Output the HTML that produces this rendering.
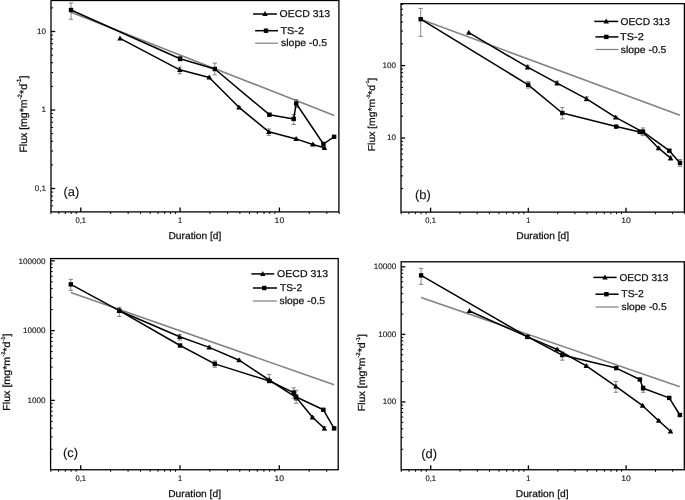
<!DOCTYPE html>
<html><head><meta charset="utf-8"><style>
html,body{margin:0;padding:0;background:#fff;}
svg{display:block;font-family:"Liberation Sans",sans-serif;fill:#111;filter:blur(0.35px);}
text{stroke:#111;stroke-width:0.25px;text-rendering:geometricPrecision;}
text.tk{stroke-width:0.12px;}
text.pl{stroke-width:0.12px;}
</style></head><body>
<svg width="685" height="500" viewBox="0 0 685 500">
<rect width="685" height="500" fill="#fff"/>
<line x1="50.91" y1="211.90" x2="50.91" y2="214.00" stroke="#000" stroke-width="0.95" />
<line x1="58.77" y1="211.90" x2="58.77" y2="214.00" stroke="#000" stroke-width="0.95" />
<line x1="65.42" y1="211.90" x2="65.42" y2="214.00" stroke="#000" stroke-width="0.95" />
<line x1="71.18" y1="211.90" x2="71.18" y2="214.00" stroke="#000" stroke-width="0.95" />
<line x1="76.26" y1="211.90" x2="76.26" y2="214.00" stroke="#000" stroke-width="0.95" />
<line x1="80.80" y1="211.90" x2="80.80" y2="207.50" stroke="#000" stroke-width="1.3" />
<line x1="110.69" y1="211.90" x2="110.69" y2="214.00" stroke="#000" stroke-width="0.95" />
<line x1="128.18" y1="211.90" x2="128.18" y2="214.00" stroke="#000" stroke-width="0.95" />
<line x1="140.58" y1="211.90" x2="140.58" y2="214.00" stroke="#000" stroke-width="0.95" />
<line x1="150.21" y1="211.90" x2="150.21" y2="214.00" stroke="#000" stroke-width="0.95" />
<line x1="158.07" y1="211.90" x2="158.07" y2="214.00" stroke="#000" stroke-width="0.95" />
<line x1="164.72" y1="211.90" x2="164.72" y2="214.00" stroke="#000" stroke-width="0.95" />
<line x1="170.48" y1="211.90" x2="170.48" y2="214.00" stroke="#000" stroke-width="0.95" />
<line x1="175.56" y1="211.90" x2="175.56" y2="214.00" stroke="#000" stroke-width="0.95" />
<line x1="180.10" y1="211.90" x2="180.10" y2="207.50" stroke="#000" stroke-width="1.3" />
<line x1="209.99" y1="211.90" x2="209.99" y2="214.00" stroke="#000" stroke-width="0.95" />
<line x1="227.48" y1="211.90" x2="227.48" y2="214.00" stroke="#000" stroke-width="0.95" />
<line x1="239.88" y1="211.90" x2="239.88" y2="214.00" stroke="#000" stroke-width="0.95" />
<line x1="249.51" y1="211.90" x2="249.51" y2="214.00" stroke="#000" stroke-width="0.95" />
<line x1="257.37" y1="211.90" x2="257.37" y2="214.00" stroke="#000" stroke-width="0.95" />
<line x1="264.02" y1="211.90" x2="264.02" y2="214.00" stroke="#000" stroke-width="0.95" />
<line x1="269.78" y1="211.90" x2="269.78" y2="214.00" stroke="#000" stroke-width="0.95" />
<line x1="274.86" y1="211.90" x2="274.86" y2="214.00" stroke="#000" stroke-width="0.95" />
<line x1="279.40" y1="211.90" x2="279.40" y2="207.50" stroke="#000" stroke-width="1.3" />
<line x1="309.29" y1="211.90" x2="309.29" y2="214.00" stroke="#000" stroke-width="0.95" />
<line x1="326.78" y1="211.90" x2="326.78" y2="214.00" stroke="#000" stroke-width="0.95" />
<line x1="339.18" y1="211.90" x2="339.18" y2="214.00" stroke="#000" stroke-width="0.95" />
<text x="75.50" y="223.00" font-size="8.0" text-anchor="start" class="tk" textLength="10.6" lengthAdjust="spacingAndGlyphs">0,1</text>
<text x="178.05" y="223.00" font-size="8.0" text-anchor="start" class="tk" textLength="4.1" lengthAdjust="spacingAndGlyphs">1</text>
<text x="274.60" y="223.00" font-size="8.0" text-anchor="start" class="tk" textLength="9.6" lengthAdjust="spacingAndGlyphs">10</text>
<line x1="51.00" y1="205.92" x2="53.10" y2="205.92" stroke="#000" stroke-width="1.0" />
<line x1="51.00" y1="200.66" x2="53.10" y2="200.66" stroke="#000" stroke-width="1.0" />
<line x1="51.00" y1="196.11" x2="53.10" y2="196.11" stroke="#000" stroke-width="1.0" />
<line x1="51.00" y1="192.09" x2="53.10" y2="192.09" stroke="#000" stroke-width="1.0" />
<line x1="51.00" y1="188.50" x2="55.20" y2="188.50" stroke="#000" stroke-width="1.3" />
<line x1="51.00" y1="164.87" x2="53.10" y2="164.87" stroke="#000" stroke-width="1.0" />
<line x1="51.00" y1="151.05" x2="53.10" y2="151.05" stroke="#000" stroke-width="1.0" />
<line x1="51.00" y1="141.24" x2="53.10" y2="141.24" stroke="#000" stroke-width="1.0" />
<line x1="51.00" y1="133.63" x2="53.10" y2="133.63" stroke="#000" stroke-width="1.0" />
<line x1="51.00" y1="127.42" x2="53.10" y2="127.42" stroke="#000" stroke-width="1.0" />
<line x1="51.00" y1="122.16" x2="53.10" y2="122.16" stroke="#000" stroke-width="1.0" />
<line x1="51.00" y1="117.61" x2="53.10" y2="117.61" stroke="#000" stroke-width="1.0" />
<line x1="51.00" y1="113.59" x2="53.10" y2="113.59" stroke="#000" stroke-width="1.0" />
<line x1="51.00" y1="110.00" x2="55.20" y2="110.00" stroke="#000" stroke-width="1.3" />
<line x1="51.00" y1="86.37" x2="53.10" y2="86.37" stroke="#000" stroke-width="1.0" />
<line x1="51.00" y1="72.55" x2="53.10" y2="72.55" stroke="#000" stroke-width="1.0" />
<line x1="51.00" y1="62.74" x2="53.10" y2="62.74" stroke="#000" stroke-width="1.0" />
<line x1="51.00" y1="55.13" x2="53.10" y2="55.13" stroke="#000" stroke-width="1.0" />
<line x1="51.00" y1="48.92" x2="53.10" y2="48.92" stroke="#000" stroke-width="1.0" />
<line x1="51.00" y1="43.66" x2="53.10" y2="43.66" stroke="#000" stroke-width="1.0" />
<line x1="51.00" y1="39.11" x2="53.10" y2="39.11" stroke="#000" stroke-width="1.0" />
<line x1="51.00" y1="35.09" x2="53.10" y2="35.09" stroke="#000" stroke-width="1.0" />
<line x1="51.00" y1="31.50" x2="55.20" y2="31.50" stroke="#000" stroke-width="1.3" />
<line x1="51.00" y1="7.87" x2="53.10" y2="7.87" stroke="#000" stroke-width="1.0" />
<text x="37.00" y="34.00" font-size="8.0" text-anchor="start" class="tk" textLength="9.0" lengthAdjust="spacingAndGlyphs">10</text>
<text x="41.50" y="112.00" font-size="8.0" text-anchor="start" class="tk" textLength="4.5" lengthAdjust="spacingAndGlyphs">1</text>
<text x="34.80" y="191.00" font-size="8.0" text-anchor="start" class="tk" textLength="11.2" lengthAdjust="spacingAndGlyphs">0,1</text>
<line x1="71.00" y1="12.20" x2="334.30" y2="115.50" stroke="#828282" stroke-width="1.6" />
<line x1="71.00" y1="3.00" x2="71.00" y2="19.30" stroke="#3a3a3a" stroke-width="0.6" />
<line x1="68.80" y1="3.00" x2="73.20" y2="3.00" stroke="#3a3a3a" stroke-width="0.6" />
<line x1="68.80" y1="19.30" x2="73.20" y2="19.30" stroke="#3a3a3a" stroke-width="0.6" />
<line x1="180.10" y1="56.60" x2="180.10" y2="61.00" stroke="#3a3a3a" stroke-width="0.6" />
<line x1="177.90" y1="56.60" x2="182.30" y2="56.60" stroke="#3a3a3a" stroke-width="0.6" />
<line x1="177.90" y1="61.00" x2="182.30" y2="61.00" stroke="#3a3a3a" stroke-width="0.6" />
<line x1="214.80" y1="63.10" x2="214.80" y2="74.90" stroke="#3a3a3a" stroke-width="0.6" />
<line x1="212.60" y1="63.10" x2="217.00" y2="63.10" stroke="#3a3a3a" stroke-width="0.6" />
<line x1="212.60" y1="74.90" x2="217.00" y2="74.90" stroke="#3a3a3a" stroke-width="0.6" />
<line x1="269.40" y1="113.40" x2="269.40" y2="116.00" stroke="#3a3a3a" stroke-width="0.6" />
<line x1="267.20" y1="113.40" x2="271.60" y2="113.40" stroke="#3a3a3a" stroke-width="0.6" />
<line x1="267.20" y1="116.00" x2="271.60" y2="116.00" stroke="#3a3a3a" stroke-width="0.6" />
<line x1="293.70" y1="114.50" x2="293.70" y2="124.50" stroke="#3a3a3a" stroke-width="0.6" />
<line x1="291.50" y1="114.50" x2="295.90" y2="114.50" stroke="#3a3a3a" stroke-width="0.6" />
<line x1="291.50" y1="124.50" x2="295.90" y2="124.50" stroke="#3a3a3a" stroke-width="0.6" />
<line x1="296.20" y1="99.60" x2="296.20" y2="107.40" stroke="#3a3a3a" stroke-width="0.6" />
<line x1="294.00" y1="99.60" x2="298.40" y2="99.60" stroke="#3a3a3a" stroke-width="0.6" />
<line x1="294.00" y1="107.40" x2="298.40" y2="107.40" stroke="#3a3a3a" stroke-width="0.6" />
<line x1="323.40" y1="143.00" x2="323.40" y2="145.00" stroke="#3a3a3a" stroke-width="0.6" />
<line x1="321.20" y1="143.00" x2="325.60" y2="143.00" stroke="#3a3a3a" stroke-width="0.6" />
<line x1="321.20" y1="145.00" x2="325.60" y2="145.00" stroke="#3a3a3a" stroke-width="0.6" />
<line x1="334.10" y1="136.00" x2="334.10" y2="137.60" stroke="#3a3a3a" stroke-width="0.6" />
<line x1="331.90" y1="136.00" x2="336.30" y2="136.00" stroke="#3a3a3a" stroke-width="0.6" />
<line x1="331.90" y1="137.60" x2="336.30" y2="137.60" stroke="#3a3a3a" stroke-width="0.6" />
<line x1="179.80" y1="67.10" x2="179.80" y2="73.80" stroke="#3a3a3a" stroke-width="0.6" />
<line x1="177.60" y1="67.10" x2="182.00" y2="67.10" stroke="#3a3a3a" stroke-width="0.6" />
<line x1="177.60" y1="73.80" x2="182.00" y2="73.80" stroke="#3a3a3a" stroke-width="0.6" />
<line x1="209.20" y1="76.70" x2="209.20" y2="78.30" stroke="#3a3a3a" stroke-width="0.6" />
<line x1="207.00" y1="76.70" x2="211.40" y2="76.70" stroke="#3a3a3a" stroke-width="0.6" />
<line x1="207.00" y1="78.30" x2="211.40" y2="78.30" stroke="#3a3a3a" stroke-width="0.6" />
<line x1="239.00" y1="106.50" x2="239.00" y2="108.10" stroke="#3a3a3a" stroke-width="0.6" />
<line x1="236.80" y1="106.50" x2="241.20" y2="106.50" stroke="#3a3a3a" stroke-width="0.6" />
<line x1="236.80" y1="108.10" x2="241.20" y2="108.10" stroke="#3a3a3a" stroke-width="0.6" />
<line x1="268.80" y1="128.90" x2="268.80" y2="135.40" stroke="#3a3a3a" stroke-width="0.6" />
<line x1="266.60" y1="128.90" x2="271.00" y2="128.90" stroke="#3a3a3a" stroke-width="0.6" />
<line x1="266.60" y1="135.40" x2="271.00" y2="135.40" stroke="#3a3a3a" stroke-width="0.6" />
<line x1="296.10" y1="137.90" x2="296.10" y2="139.90" stroke="#3a3a3a" stroke-width="0.6" />
<line x1="293.90" y1="137.90" x2="298.30" y2="137.90" stroke="#3a3a3a" stroke-width="0.6" />
<line x1="293.90" y1="139.90" x2="298.30" y2="139.90" stroke="#3a3a3a" stroke-width="0.6" />
<line x1="312.80" y1="143.70" x2="312.80" y2="145.30" stroke="#3a3a3a" stroke-width="0.6" />
<line x1="310.60" y1="143.70" x2="315.00" y2="143.70" stroke="#3a3a3a" stroke-width="0.6" />
<line x1="310.60" y1="145.30" x2="315.00" y2="145.30" stroke="#3a3a3a" stroke-width="0.6" />
<line x1="324.40" y1="146.80" x2="324.40" y2="148.80" stroke="#3a3a3a" stroke-width="0.6" />
<line x1="322.20" y1="146.80" x2="326.60" y2="146.80" stroke="#3a3a3a" stroke-width="0.6" />
<line x1="322.20" y1="148.80" x2="326.60" y2="148.80" stroke="#3a3a3a" stroke-width="0.6" />
<polyline points="120.0,38.4 179.8,69.8 209.2,77.5 239.0,107.3 268.8,131.8 296.1,138.9 312.8,144.5 324.4,147.8" fill="none" stroke="#000" stroke-width="1.5" stroke-linejoin="round"/>
<polyline points="71.0,10.0 180.1,58.8 214.8,69.0 269.4,114.7 293.7,118.9 296.2,103.5 323.4,144.0 334.1,136.8" fill="none" stroke="#000" stroke-width="1.5" stroke-linejoin="round"/>
<polygon points="120.0,35.5 117.3,40.5 122.7,40.5" fill="#000"/>
<polygon points="179.8,66.9 177.1,71.9 182.5,71.9" fill="#000"/>
<polygon points="209.2,74.6 206.5,79.6 211.9,79.6" fill="#000"/>
<polygon points="239.0,104.4 236.3,109.4 241.7,109.4" fill="#000"/>
<polygon points="268.8,128.9 266.1,133.9 271.5,133.9" fill="#000"/>
<polygon points="296.1,136.0 293.4,141.0 298.8,141.0" fill="#000"/>
<polygon points="312.8,141.6 310.1,146.6 315.5,146.6" fill="#000"/>
<polygon points="324.4,144.9 321.7,149.9 327.1,149.9" fill="#000"/>
<rect x="68.8" y="7.8" width="4.4" height="4.4" fill="#000"/>
<rect x="177.9" y="56.6" width="4.4" height="4.4" fill="#000"/>
<rect x="212.6" y="66.8" width="4.4" height="4.4" fill="#000"/>
<rect x="267.2" y="112.5" width="4.4" height="4.4" fill="#000"/>
<rect x="291.5" y="116.7" width="4.4" height="4.4" fill="#000"/>
<rect x="294.0" y="101.3" width="4.4" height="4.4" fill="#000"/>
<rect x="321.2" y="141.8" width="4.4" height="4.4" fill="#000"/>
<rect x="331.9" y="134.6" width="4.4" height="4.4" fill="#000"/>
<rect x="51" y="0.5" width="287.9" height="211.4" fill="none" stroke="#000" stroke-width="1.3"/>
<line x1="253.10" y1="14.00" x2="276.90" y2="14.00" stroke="#000" stroke-width="1.5" />
<polygon points="265.0,11.1 262.3,16.1 267.7,16.1" fill="#000"/>
<line x1="255.10" y1="30.70" x2="278.00" y2="30.70" stroke="#000" stroke-width="1.5" />
<rect x="263.8" y="28.5" width="4.4" height="4.4" fill="#000"/>
<line x1="255.10" y1="43.20" x2="278.00" y2="43.20" stroke="#808080" stroke-width="1.2" />
<text x="279.60" y="17.00" font-size="9.9" text-anchor="start"  textLength="50.5" lengthAdjust="spacingAndGlyphs">OECD 313</text>
<text x="280.40" y="34.00" font-size="9.9" text-anchor="start"  textLength="23.7" lengthAdjust="spacingAndGlyphs">TS-2</text>
<text x="281.00" y="46.00" font-size="9.9" text-anchor="start"  textLength="46.1" lengthAdjust="spacingAndGlyphs">slope -0.5</text>
<text x="63.50" y="196.00" font-size="12.7" text-anchor="start" class="pl" textLength="15.8" lengthAdjust="spacingAndGlyphs">(a)</text>
<text x="168.50" y="239.00" font-size="9.9" text-anchor="start"  textLength="52.8" lengthAdjust="spacingAndGlyphs">Duration [d]</text>
<text transform="translate(26.5,152.6) rotate(-90)" font-size="10.6" textLength="77.0" lengthAdjust="spacingAndGlyphs">Flux [mg*m<tspan font-size="6.2" dy="-5">-2</tspan><tspan dy="5">*d</tspan><tspan font-size="6.2" dy="-5.5">-1</tspan><tspan dy="5.5">]</tspan></text>
<line x1="401.19" y1="212.10" x2="401.19" y2="214.20" stroke="#000" stroke-width="0.95" />
<line x1="408.93" y1="212.10" x2="408.93" y2="214.20" stroke="#000" stroke-width="0.95" />
<line x1="415.47" y1="212.10" x2="415.47" y2="214.20" stroke="#000" stroke-width="0.95" />
<line x1="421.13" y1="212.10" x2="421.13" y2="214.20" stroke="#000" stroke-width="0.95" />
<line x1="426.13" y1="212.10" x2="426.13" y2="214.20" stroke="#000" stroke-width="0.95" />
<line x1="430.60" y1="212.10" x2="430.60" y2="207.70" stroke="#000" stroke-width="1.3" />
<line x1="460.01" y1="212.10" x2="460.01" y2="214.20" stroke="#000" stroke-width="0.95" />
<line x1="477.21" y1="212.10" x2="477.21" y2="214.20" stroke="#000" stroke-width="0.95" />
<line x1="489.42" y1="212.10" x2="489.42" y2="214.20" stroke="#000" stroke-width="0.95" />
<line x1="498.89" y1="212.10" x2="498.89" y2="214.20" stroke="#000" stroke-width="0.95" />
<line x1="506.63" y1="212.10" x2="506.63" y2="214.20" stroke="#000" stroke-width="0.95" />
<line x1="513.17" y1="212.10" x2="513.17" y2="214.20" stroke="#000" stroke-width="0.95" />
<line x1="518.83" y1="212.10" x2="518.83" y2="214.20" stroke="#000" stroke-width="0.95" />
<line x1="523.83" y1="212.10" x2="523.83" y2="214.20" stroke="#000" stroke-width="0.95" />
<line x1="528.30" y1="212.10" x2="528.30" y2="207.70" stroke="#000" stroke-width="1.3" />
<line x1="557.71" y1="212.10" x2="557.71" y2="214.20" stroke="#000" stroke-width="0.95" />
<line x1="574.91" y1="212.10" x2="574.91" y2="214.20" stroke="#000" stroke-width="0.95" />
<line x1="587.12" y1="212.10" x2="587.12" y2="214.20" stroke="#000" stroke-width="0.95" />
<line x1="596.59" y1="212.10" x2="596.59" y2="214.20" stroke="#000" stroke-width="0.95" />
<line x1="604.33" y1="212.10" x2="604.33" y2="214.20" stroke="#000" stroke-width="0.95" />
<line x1="610.87" y1="212.10" x2="610.87" y2="214.20" stroke="#000" stroke-width="0.95" />
<line x1="616.53" y1="212.10" x2="616.53" y2="214.20" stroke="#000" stroke-width="0.95" />
<line x1="621.53" y1="212.10" x2="621.53" y2="214.20" stroke="#000" stroke-width="0.95" />
<line x1="626.00" y1="212.10" x2="626.00" y2="207.70" stroke="#000" stroke-width="1.3" />
<line x1="655.41" y1="212.10" x2="655.41" y2="214.20" stroke="#000" stroke-width="0.95" />
<line x1="672.61" y1="212.10" x2="672.61" y2="214.20" stroke="#000" stroke-width="0.95" />
<line x1="684.82" y1="212.10" x2="684.82" y2="214.20" stroke="#000" stroke-width="0.95" />
<text x="425.30" y="223.00" font-size="8.0" text-anchor="start" class="tk" textLength="10.6" lengthAdjust="spacingAndGlyphs">0,1</text>
<text x="526.25" y="223.00" font-size="8.0" text-anchor="start" class="tk" textLength="4.1" lengthAdjust="spacingAndGlyphs">1</text>
<text x="621.20" y="223.00" font-size="8.0" text-anchor="start" class="tk" textLength="9.6" lengthAdjust="spacingAndGlyphs">10</text>
<line x1="401.00" y1="188.61" x2="403.10" y2="188.61" stroke="#000" stroke-width="1.0" />
<line x1="401.00" y1="175.86" x2="403.10" y2="175.86" stroke="#000" stroke-width="1.0" />
<line x1="401.00" y1="166.81" x2="403.10" y2="166.81" stroke="#000" stroke-width="1.0" />
<line x1="401.00" y1="159.79" x2="403.10" y2="159.79" stroke="#000" stroke-width="1.0" />
<line x1="401.00" y1="154.06" x2="403.10" y2="154.06" stroke="#000" stroke-width="1.0" />
<line x1="401.00" y1="149.21" x2="403.10" y2="149.21" stroke="#000" stroke-width="1.0" />
<line x1="401.00" y1="145.02" x2="403.10" y2="145.02" stroke="#000" stroke-width="1.0" />
<line x1="401.00" y1="141.31" x2="403.10" y2="141.31" stroke="#000" stroke-width="1.0" />
<line x1="401.00" y1="138.00" x2="405.20" y2="138.00" stroke="#000" stroke-width="1.3" />
<line x1="401.00" y1="116.21" x2="403.10" y2="116.21" stroke="#000" stroke-width="1.0" />
<line x1="401.00" y1="103.46" x2="403.10" y2="103.46" stroke="#000" stroke-width="1.0" />
<line x1="401.00" y1="94.41" x2="403.10" y2="94.41" stroke="#000" stroke-width="1.0" />
<line x1="401.00" y1="87.39" x2="403.10" y2="87.39" stroke="#000" stroke-width="1.0" />
<line x1="401.00" y1="81.66" x2="403.10" y2="81.66" stroke="#000" stroke-width="1.0" />
<line x1="401.00" y1="76.81" x2="403.10" y2="76.81" stroke="#000" stroke-width="1.0" />
<line x1="401.00" y1="72.62" x2="403.10" y2="72.62" stroke="#000" stroke-width="1.0" />
<line x1="401.00" y1="68.91" x2="403.10" y2="68.91" stroke="#000" stroke-width="1.0" />
<line x1="401.00" y1="65.60" x2="405.20" y2="65.60" stroke="#000" stroke-width="1.3" />
<line x1="401.00" y1="43.81" x2="403.10" y2="43.81" stroke="#000" stroke-width="1.0" />
<line x1="401.00" y1="31.06" x2="403.10" y2="31.06" stroke="#000" stroke-width="1.0" />
<line x1="401.00" y1="22.01" x2="403.10" y2="22.01" stroke="#000" stroke-width="1.0" />
<line x1="401.00" y1="14.99" x2="403.10" y2="14.99" stroke="#000" stroke-width="1.0" />
<line x1="401.00" y1="9.26" x2="403.10" y2="9.26" stroke="#000" stroke-width="1.0" />
<line x1="401.00" y1="4.41" x2="403.10" y2="4.41" stroke="#000" stroke-width="1.0" />
<text x="382.50" y="68.00" font-size="8.0" text-anchor="start" class="tk" textLength="13.5" lengthAdjust="spacingAndGlyphs">100</text>
<text x="387.00" y="140.00" font-size="8.0" text-anchor="start" class="tk" textLength="9.0" lengthAdjust="spacingAndGlyphs">10</text>
<line x1="420.70" y1="19.20" x2="680.00" y2="115.20" stroke="#828282" stroke-width="1.6" />
<line x1="420.70" y1="8.40" x2="420.70" y2="36.40" stroke="#3a3a3a" stroke-width="0.6" />
<line x1="418.50" y1="8.40" x2="422.90" y2="8.40" stroke="#3a3a3a" stroke-width="0.6" />
<line x1="418.50" y1="36.40" x2="422.90" y2="36.40" stroke="#3a3a3a" stroke-width="0.6" />
<line x1="528.20" y1="81.50" x2="528.20" y2="88.10" stroke="#3a3a3a" stroke-width="0.6" />
<line x1="526.00" y1="81.50" x2="530.40" y2="81.50" stroke="#3a3a3a" stroke-width="0.6" />
<line x1="526.00" y1="88.10" x2="530.40" y2="88.10" stroke="#3a3a3a" stroke-width="0.6" />
<line x1="562.30" y1="107.40" x2="562.30" y2="119.00" stroke="#3a3a3a" stroke-width="0.6" />
<line x1="560.10" y1="107.40" x2="564.50" y2="107.40" stroke="#3a3a3a" stroke-width="0.6" />
<line x1="560.10" y1="119.00" x2="564.50" y2="119.00" stroke="#3a3a3a" stroke-width="0.6" />
<line x1="639.80" y1="130.70" x2="639.80" y2="133.10" stroke="#3a3a3a" stroke-width="0.6" />
<line x1="637.60" y1="130.70" x2="642.00" y2="130.70" stroke="#3a3a3a" stroke-width="0.6" />
<line x1="637.60" y1="133.10" x2="642.00" y2="133.10" stroke="#3a3a3a" stroke-width="0.6" />
<line x1="642.90" y1="127.90" x2="642.90" y2="135.60" stroke="#3a3a3a" stroke-width="0.6" />
<line x1="640.70" y1="127.90" x2="645.10" y2="127.90" stroke="#3a3a3a" stroke-width="0.6" />
<line x1="640.70" y1="135.60" x2="645.10" y2="135.60" stroke="#3a3a3a" stroke-width="0.6" />
<line x1="669.30" y1="149.90" x2="669.30" y2="151.50" stroke="#3a3a3a" stroke-width="0.6" />
<line x1="667.10" y1="149.90" x2="671.50" y2="149.90" stroke="#3a3a3a" stroke-width="0.6" />
<line x1="667.10" y1="151.50" x2="671.50" y2="151.50" stroke="#3a3a3a" stroke-width="0.6" />
<line x1="680.00" y1="159.50" x2="680.00" y2="166.40" stroke="#3a3a3a" stroke-width="0.6" />
<line x1="677.80" y1="159.50" x2="682.20" y2="159.50" stroke="#3a3a3a" stroke-width="0.6" />
<line x1="677.80" y1="166.40" x2="682.20" y2="166.40" stroke="#3a3a3a" stroke-width="0.6" />
<line x1="527.60" y1="65.20" x2="527.60" y2="69.20" stroke="#3a3a3a" stroke-width="0.6" />
<line x1="525.40" y1="65.20" x2="529.80" y2="65.20" stroke="#3a3a3a" stroke-width="0.6" />
<line x1="525.40" y1="69.20" x2="529.80" y2="69.20" stroke="#3a3a3a" stroke-width="0.6" />
<line x1="557.10" y1="81.20" x2="557.10" y2="85.20" stroke="#3a3a3a" stroke-width="0.6" />
<line x1="554.90" y1="81.20" x2="559.30" y2="81.20" stroke="#3a3a3a" stroke-width="0.6" />
<line x1="554.90" y1="85.20" x2="559.30" y2="85.20" stroke="#3a3a3a" stroke-width="0.6" />
<line x1="586.60" y1="96.90" x2="586.60" y2="100.90" stroke="#3a3a3a" stroke-width="0.6" />
<line x1="584.40" y1="96.90" x2="588.80" y2="96.90" stroke="#3a3a3a" stroke-width="0.6" />
<line x1="584.40" y1="100.90" x2="588.80" y2="100.90" stroke="#3a3a3a" stroke-width="0.6" />
<line x1="615.70" y1="116.40" x2="615.70" y2="118.40" stroke="#3a3a3a" stroke-width="0.6" />
<line x1="613.50" y1="116.40" x2="617.90" y2="116.40" stroke="#3a3a3a" stroke-width="0.6" />
<line x1="613.50" y1="118.40" x2="617.90" y2="118.40" stroke="#3a3a3a" stroke-width="0.6" />
<line x1="643.00" y1="131.20" x2="643.00" y2="133.20" stroke="#3a3a3a" stroke-width="0.6" />
<line x1="640.80" y1="131.20" x2="645.20" y2="131.20" stroke="#3a3a3a" stroke-width="0.6" />
<line x1="640.80" y1="133.20" x2="645.20" y2="133.20" stroke="#3a3a3a" stroke-width="0.6" />
<line x1="658.60" y1="147.40" x2="658.60" y2="149.00" stroke="#3a3a3a" stroke-width="0.6" />
<line x1="656.40" y1="147.40" x2="660.80" y2="147.40" stroke="#3a3a3a" stroke-width="0.6" />
<line x1="656.40" y1="149.00" x2="660.80" y2="149.00" stroke="#3a3a3a" stroke-width="0.6" />
<line x1="670.60" y1="156.20" x2="670.60" y2="160.20" stroke="#3a3a3a" stroke-width="0.6" />
<line x1="668.40" y1="156.20" x2="672.80" y2="156.20" stroke="#3a3a3a" stroke-width="0.6" />
<line x1="668.40" y1="160.20" x2="672.80" y2="160.20" stroke="#3a3a3a" stroke-width="0.6" />
<polyline points="468.8,32.6 527.6,67.2 557.1,83.2 586.6,98.9 615.7,117.4 643.0,132.2 658.6,148.2 670.6,158.2" fill="none" stroke="#000" stroke-width="1.5" stroke-linejoin="round"/>
<polyline points="420.7,19.2 528.2,84.8 562.3,113.0 616.2,126.6 639.8,131.9 642.9,131.6 669.3,150.7 680.0,162.9" fill="none" stroke="#000" stroke-width="1.5" stroke-linejoin="round"/>
<polygon points="468.8,29.7 466.1,34.7 471.5,34.7" fill="#000"/>
<polygon points="527.6,64.3 524.9,69.3 530.3,69.3" fill="#000"/>
<polygon points="557.1,80.3 554.4,85.3 559.8,85.3" fill="#000"/>
<polygon points="586.6,96.0 583.9,101.0 589.3,101.0" fill="#000"/>
<polygon points="615.7,114.5 613.0,119.5 618.4,119.5" fill="#000"/>
<polygon points="643.0,129.3 640.3,134.3 645.7,134.3" fill="#000"/>
<polygon points="658.6,145.3 655.9,150.3 661.3,150.3" fill="#000"/>
<polygon points="670.6,155.3 667.9,160.3 673.3,160.3" fill="#000"/>
<rect x="418.5" y="17.0" width="4.4" height="4.4" fill="#000"/>
<rect x="526.0" y="82.6" width="4.4" height="4.4" fill="#000"/>
<rect x="560.1" y="110.8" width="4.4" height="4.4" fill="#000"/>
<rect x="614.0" y="124.4" width="4.4" height="4.4" fill="#000"/>
<rect x="637.6" y="129.7" width="4.4" height="4.4" fill="#000"/>
<rect x="640.7" y="129.4" width="4.4" height="4.4" fill="#000"/>
<rect x="667.1" y="148.5" width="4.4" height="4.4" fill="#000"/>
<rect x="677.8" y="160.7" width="4.4" height="4.4" fill="#000"/>
<rect x="401.0" y="3.65" width="283.4" height="208.45" fill="none" stroke="#000" stroke-width="1.3"/>
<line x1="594.30" y1="21.40" x2="618.20" y2="21.40" stroke="#000" stroke-width="1.5" />
<polygon points="606.2,18.5 603.5,23.5 609.0,23.5" fill="#000"/>
<line x1="595.40" y1="36.90" x2="618.40" y2="36.90" stroke="#000" stroke-width="1.5" />
<rect x="604.1" y="34.7" width="4.4" height="4.4" fill="#000"/>
<line x1="595.40" y1="49.50" x2="618.40" y2="49.50" stroke="#808080" stroke-width="1.2" />
<text x="620.60" y="25.00" font-size="9.9" text-anchor="start"  textLength="49.4" lengthAdjust="spacingAndGlyphs">OECD 313</text>
<text x="620.00" y="40.00" font-size="9.9" text-anchor="start"  textLength="23.8" lengthAdjust="spacingAndGlyphs">TS-2</text>
<text x="620.80" y="53.00" font-size="9.9" text-anchor="start"  textLength="45.6" lengthAdjust="spacingAndGlyphs">slope -0.5</text>
<text x="415.00" y="199.00" font-size="12.7" text-anchor="start" class="pl" textLength="15.8" lengthAdjust="spacingAndGlyphs">(b)</text>
<text x="516.30" y="239.00" font-size="9.9" text-anchor="start"  textLength="52.8" lengthAdjust="spacingAndGlyphs">Duration [d]</text>
<text transform="translate(374.6,151.2) rotate(-90)" font-size="10.0" textLength="73.4" lengthAdjust="spacingAndGlyphs">Flux [mg*m<tspan font-size="4.6" dy="-5">-2</tspan><tspan dy="5">*d</tspan><tspan font-size="4.6" dy="-5.5">-1</tspan><tspan dy="5.5">]</tspan></text>
<line x1="50.81" y1="469.75" x2="50.81" y2="471.85" stroke="#000" stroke-width="0.95" />
<line x1="58.67" y1="469.75" x2="58.67" y2="471.85" stroke="#000" stroke-width="0.95" />
<line x1="65.32" y1="469.75" x2="65.32" y2="471.85" stroke="#000" stroke-width="0.95" />
<line x1="71.08" y1="469.75" x2="71.08" y2="471.85" stroke="#000" stroke-width="0.95" />
<line x1="76.16" y1="469.75" x2="76.16" y2="471.85" stroke="#000" stroke-width="0.95" />
<line x1="80.70" y1="469.75" x2="80.70" y2="465.35" stroke="#000" stroke-width="1.3" />
<line x1="110.59" y1="469.75" x2="110.59" y2="471.85" stroke="#000" stroke-width="0.95" />
<line x1="128.08" y1="469.75" x2="128.08" y2="471.85" stroke="#000" stroke-width="0.95" />
<line x1="140.48" y1="469.75" x2="140.48" y2="471.85" stroke="#000" stroke-width="0.95" />
<line x1="150.11" y1="469.75" x2="150.11" y2="471.85" stroke="#000" stroke-width="0.95" />
<line x1="157.97" y1="469.75" x2="157.97" y2="471.85" stroke="#000" stroke-width="0.95" />
<line x1="164.62" y1="469.75" x2="164.62" y2="471.85" stroke="#000" stroke-width="0.95" />
<line x1="170.38" y1="469.75" x2="170.38" y2="471.85" stroke="#000" stroke-width="0.95" />
<line x1="175.46" y1="469.75" x2="175.46" y2="471.85" stroke="#000" stroke-width="0.95" />
<line x1="180.00" y1="469.75" x2="180.00" y2="465.35" stroke="#000" stroke-width="1.3" />
<line x1="209.89" y1="469.75" x2="209.89" y2="471.85" stroke="#000" stroke-width="0.95" />
<line x1="227.38" y1="469.75" x2="227.38" y2="471.85" stroke="#000" stroke-width="0.95" />
<line x1="239.78" y1="469.75" x2="239.78" y2="471.85" stroke="#000" stroke-width="0.95" />
<line x1="249.41" y1="469.75" x2="249.41" y2="471.85" stroke="#000" stroke-width="0.95" />
<line x1="257.27" y1="469.75" x2="257.27" y2="471.85" stroke="#000" stroke-width="0.95" />
<line x1="263.92" y1="469.75" x2="263.92" y2="471.85" stroke="#000" stroke-width="0.95" />
<line x1="269.68" y1="469.75" x2="269.68" y2="471.85" stroke="#000" stroke-width="0.95" />
<line x1="274.76" y1="469.75" x2="274.76" y2="471.85" stroke="#000" stroke-width="0.95" />
<line x1="279.30" y1="469.75" x2="279.30" y2="465.35" stroke="#000" stroke-width="1.3" />
<line x1="309.19" y1="469.75" x2="309.19" y2="471.85" stroke="#000" stroke-width="0.95" />
<line x1="326.68" y1="469.75" x2="326.68" y2="471.85" stroke="#000" stroke-width="0.95" />
<text x="75.40" y="481.00" font-size="8.0" text-anchor="start" class="tk" textLength="10.6" lengthAdjust="spacingAndGlyphs">0,1</text>
<text x="177.95" y="481.00" font-size="8.0" text-anchor="start" class="tk" textLength="4.1" lengthAdjust="spacingAndGlyphs">1</text>
<text x="274.50" y="481.00" font-size="8.0" text-anchor="start" class="tk" textLength="9.6" lengthAdjust="spacingAndGlyphs">10</text>
<line x1="50.60" y1="449.19" x2="52.70" y2="449.19" stroke="#000" stroke-width="1.0" />
<line x1="50.60" y1="436.90" x2="52.70" y2="436.90" stroke="#000" stroke-width="1.0" />
<line x1="50.60" y1="428.18" x2="52.70" y2="428.18" stroke="#000" stroke-width="1.0" />
<line x1="50.60" y1="421.41" x2="52.70" y2="421.41" stroke="#000" stroke-width="1.0" />
<line x1="50.60" y1="415.89" x2="52.70" y2="415.89" stroke="#000" stroke-width="1.0" />
<line x1="50.60" y1="411.21" x2="52.70" y2="411.21" stroke="#000" stroke-width="1.0" />
<line x1="50.60" y1="407.16" x2="52.70" y2="407.16" stroke="#000" stroke-width="1.0" />
<line x1="50.60" y1="403.59" x2="52.70" y2="403.59" stroke="#000" stroke-width="1.0" />
<line x1="50.60" y1="400.40" x2="54.80" y2="400.40" stroke="#000" stroke-width="1.3" />
<line x1="50.60" y1="379.39" x2="52.70" y2="379.39" stroke="#000" stroke-width="1.0" />
<line x1="50.60" y1="367.10" x2="52.70" y2="367.10" stroke="#000" stroke-width="1.0" />
<line x1="50.60" y1="358.38" x2="52.70" y2="358.38" stroke="#000" stroke-width="1.0" />
<line x1="50.60" y1="351.61" x2="52.70" y2="351.61" stroke="#000" stroke-width="1.0" />
<line x1="50.60" y1="346.09" x2="52.70" y2="346.09" stroke="#000" stroke-width="1.0" />
<line x1="50.60" y1="341.41" x2="52.70" y2="341.41" stroke="#000" stroke-width="1.0" />
<line x1="50.60" y1="337.36" x2="52.70" y2="337.36" stroke="#000" stroke-width="1.0" />
<line x1="50.60" y1="333.79" x2="52.70" y2="333.79" stroke="#000" stroke-width="1.0" />
<line x1="50.60" y1="330.60" x2="54.80" y2="330.60" stroke="#000" stroke-width="1.3" />
<line x1="50.60" y1="309.59" x2="52.70" y2="309.59" stroke="#000" stroke-width="1.0" />
<line x1="50.60" y1="297.30" x2="52.70" y2="297.30" stroke="#000" stroke-width="1.0" />
<line x1="50.60" y1="288.58" x2="52.70" y2="288.58" stroke="#000" stroke-width="1.0" />
<line x1="50.60" y1="281.81" x2="52.70" y2="281.81" stroke="#000" stroke-width="1.0" />
<line x1="50.60" y1="276.29" x2="52.70" y2="276.29" stroke="#000" stroke-width="1.0" />
<line x1="50.60" y1="271.61" x2="52.70" y2="271.61" stroke="#000" stroke-width="1.0" />
<line x1="50.60" y1="267.56" x2="52.70" y2="267.56" stroke="#000" stroke-width="1.0" />
<line x1="50.60" y1="263.99" x2="52.70" y2="263.99" stroke="#000" stroke-width="1.0" />
<line x1="50.60" y1="260.80" x2="54.80" y2="260.80" stroke="#000" stroke-width="1.3" />
<text x="18.60" y="264.00" font-size="8.0" text-anchor="start" class="tk" textLength="27.0" lengthAdjust="spacingAndGlyphs">100000</text>
<text x="23.10" y="333.00" font-size="8.0" text-anchor="start" class="tk" textLength="22.5" lengthAdjust="spacingAndGlyphs">10000</text>
<text x="27.60" y="403.00" font-size="8.0" text-anchor="start" class="tk" textLength="18.0" lengthAdjust="spacingAndGlyphs">1000</text>
<line x1="70.80" y1="292.50" x2="334.10" y2="384.80" stroke="#828282" stroke-width="1.6" />
<line x1="70.80" y1="279.30" x2="70.80" y2="290.40" stroke="#3a3a3a" stroke-width="0.6" />
<line x1="68.60" y1="279.30" x2="73.00" y2="279.30" stroke="#3a3a3a" stroke-width="0.6" />
<line x1="68.60" y1="290.40" x2="73.00" y2="290.40" stroke="#3a3a3a" stroke-width="0.6" />
<line x1="119.30" y1="307.30" x2="119.30" y2="316.40" stroke="#3a3a3a" stroke-width="0.6" />
<line x1="117.10" y1="307.30" x2="121.50" y2="307.30" stroke="#3a3a3a" stroke-width="0.6" />
<line x1="117.10" y1="316.40" x2="121.50" y2="316.40" stroke="#3a3a3a" stroke-width="0.6" />
<line x1="180.10" y1="344.50" x2="180.10" y2="346.50" stroke="#3a3a3a" stroke-width="0.6" />
<line x1="177.90" y1="344.50" x2="182.30" y2="344.50" stroke="#3a3a3a" stroke-width="0.6" />
<line x1="177.90" y1="346.50" x2="182.30" y2="346.50" stroke="#3a3a3a" stroke-width="0.6" />
<line x1="214.80" y1="360.90" x2="214.80" y2="367.30" stroke="#3a3a3a" stroke-width="0.6" />
<line x1="212.60" y1="360.90" x2="217.00" y2="360.90" stroke="#3a3a3a" stroke-width="0.6" />
<line x1="212.60" y1="367.30" x2="217.00" y2="367.30" stroke="#3a3a3a" stroke-width="0.6" />
<line x1="269.40" y1="379.50" x2="269.40" y2="382.50" stroke="#3a3a3a" stroke-width="0.6" />
<line x1="267.20" y1="379.50" x2="271.60" y2="379.50" stroke="#3a3a3a" stroke-width="0.6" />
<line x1="267.20" y1="382.50" x2="271.60" y2="382.50" stroke="#3a3a3a" stroke-width="0.6" />
<line x1="293.70" y1="387.80" x2="293.70" y2="398.20" stroke="#3a3a3a" stroke-width="0.6" />
<line x1="291.50" y1="387.80" x2="295.90" y2="387.80" stroke="#3a3a3a" stroke-width="0.6" />
<line x1="291.50" y1="398.20" x2="295.90" y2="398.20" stroke="#3a3a3a" stroke-width="0.6" />
<line x1="296.20" y1="390.30" x2="296.20" y2="403.30" stroke="#3a3a3a" stroke-width="0.6" />
<line x1="294.00" y1="390.30" x2="298.40" y2="390.30" stroke="#3a3a3a" stroke-width="0.6" />
<line x1="294.00" y1="403.30" x2="298.40" y2="403.30" stroke="#3a3a3a" stroke-width="0.6" />
<line x1="323.40" y1="409.00" x2="323.40" y2="410.60" stroke="#3a3a3a" stroke-width="0.6" />
<line x1="321.20" y1="409.00" x2="325.60" y2="409.00" stroke="#3a3a3a" stroke-width="0.6" />
<line x1="321.20" y1="410.60" x2="325.60" y2="410.60" stroke="#3a3a3a" stroke-width="0.6" />
<line x1="334.10" y1="427.20" x2="334.10" y2="429.60" stroke="#3a3a3a" stroke-width="0.6" />
<line x1="331.90" y1="427.20" x2="336.30" y2="427.20" stroke="#3a3a3a" stroke-width="0.6" />
<line x1="331.90" y1="429.60" x2="336.30" y2="429.60" stroke="#3a3a3a" stroke-width="0.6" />
<line x1="179.70" y1="334.40" x2="179.70" y2="340.10" stroke="#3a3a3a" stroke-width="0.6" />
<line x1="177.50" y1="334.40" x2="181.90" y2="334.40" stroke="#3a3a3a" stroke-width="0.6" />
<line x1="177.50" y1="340.10" x2="181.90" y2="340.10" stroke="#3a3a3a" stroke-width="0.6" />
<line x1="209.20" y1="346.20" x2="209.20" y2="348.60" stroke="#3a3a3a" stroke-width="0.6" />
<line x1="207.00" y1="346.20" x2="211.40" y2="346.20" stroke="#3a3a3a" stroke-width="0.6" />
<line x1="207.00" y1="348.60" x2="211.40" y2="348.60" stroke="#3a3a3a" stroke-width="0.6" />
<line x1="239.10" y1="359.20" x2="239.10" y2="361.20" stroke="#3a3a3a" stroke-width="0.6" />
<line x1="236.90" y1="359.20" x2="241.30" y2="359.20" stroke="#3a3a3a" stroke-width="0.6" />
<line x1="236.90" y1="361.20" x2="241.30" y2="361.20" stroke="#3a3a3a" stroke-width="0.6" />
<line x1="269.20" y1="374.40" x2="269.20" y2="382.50" stroke="#3a3a3a" stroke-width="0.6" />
<line x1="267.00" y1="374.40" x2="271.40" y2="374.40" stroke="#3a3a3a" stroke-width="0.6" />
<line x1="267.00" y1="382.50" x2="271.40" y2="382.50" stroke="#3a3a3a" stroke-width="0.6" />
<line x1="296.10" y1="394.30" x2="296.10" y2="400.30" stroke="#3a3a3a" stroke-width="0.6" />
<line x1="293.90" y1="394.30" x2="298.30" y2="394.30" stroke="#3a3a3a" stroke-width="0.6" />
<line x1="293.90" y1="400.30" x2="298.30" y2="400.30" stroke="#3a3a3a" stroke-width="0.6" />
<line x1="312.50" y1="416.50" x2="312.50" y2="418.10" stroke="#3a3a3a" stroke-width="0.6" />
<line x1="310.30" y1="416.50" x2="314.70" y2="416.50" stroke="#3a3a3a" stroke-width="0.6" />
<line x1="310.30" y1="418.10" x2="314.70" y2="418.10" stroke="#3a3a3a" stroke-width="0.6" />
<line x1="324.40" y1="426.60" x2="324.40" y2="430.20" stroke="#3a3a3a" stroke-width="0.6" />
<line x1="322.20" y1="426.60" x2="326.60" y2="426.60" stroke="#3a3a3a" stroke-width="0.6" />
<line x1="322.20" y1="430.20" x2="326.60" y2="430.20" stroke="#3a3a3a" stroke-width="0.6" />
<polyline points="119.3,310.7 179.7,336.8 209.2,347.4 239.1,360.2 269.2,380.0 296.1,397.3 312.5,417.3 324.4,428.4" fill="none" stroke="#000" stroke-width="1.5" stroke-linejoin="round"/>
<polyline points="70.8,284.4 119.3,310.7 180.1,345.5 214.8,363.9 269.4,381.0 293.7,392.6 296.2,397.0 323.4,409.8 334.1,428.4" fill="none" stroke="#000" stroke-width="1.5" stroke-linejoin="round"/>
<polygon points="119.3,307.8 116.6,312.8 122.0,312.8" fill="#000"/>
<polygon points="179.7,333.9 177.0,338.9 182.4,338.9" fill="#000"/>
<polygon points="209.2,344.5 206.5,349.5 211.9,349.5" fill="#000"/>
<polygon points="239.1,357.3 236.4,362.3 241.8,362.3" fill="#000"/>
<polygon points="269.2,377.1 266.5,382.1 271.9,382.1" fill="#000"/>
<polygon points="296.1,394.4 293.4,399.4 298.8,399.4" fill="#000"/>
<polygon points="312.5,414.4 309.8,419.4 315.2,419.4" fill="#000"/>
<polygon points="324.4,425.5 321.7,430.5 327.1,430.5" fill="#000"/>
<rect x="68.6" y="282.2" width="4.4" height="4.4" fill="#000"/>
<rect x="117.1" y="308.5" width="4.4" height="4.4" fill="#000"/>
<rect x="177.9" y="343.3" width="4.4" height="4.4" fill="#000"/>
<rect x="212.6" y="361.7" width="4.4" height="4.4" fill="#000"/>
<rect x="267.2" y="378.8" width="4.4" height="4.4" fill="#000"/>
<rect x="291.5" y="390.4" width="4.4" height="4.4" fill="#000"/>
<rect x="294.0" y="394.8" width="4.4" height="4.4" fill="#000"/>
<rect x="321.2" y="407.6" width="4.4" height="4.4" fill="#000"/>
<rect x="331.9" y="426.2" width="4.4" height="4.4" fill="#000"/>
<rect x="50.6" y="258.55" width="287.59999999999997" height="211.2" fill="none" stroke="#000" stroke-width="1.3"/>
<line x1="251.30" y1="273.90" x2="274.20" y2="273.90" stroke="#000" stroke-width="1.5" />
<polygon points="262.8,271.0 260.1,276.0 265.4,276.0" fill="#000"/>
<line x1="252.90" y1="288.00" x2="277.00" y2="288.00" stroke="#000" stroke-width="1.5" />
<rect x="262.1" y="285.8" width="4.4" height="4.4" fill="#000"/>
<line x1="252.90" y1="301.00" x2="277.00" y2="301.00" stroke="#808080" stroke-width="1.2" />
<text x="277.10" y="277.00" font-size="9.9" text-anchor="start"  textLength="51.0" lengthAdjust="spacingAndGlyphs">OECD 313</text>
<text x="280.10" y="291.00" font-size="9.9" text-anchor="start"  textLength="22.1" lengthAdjust="spacingAndGlyphs">TS-2</text>
<text x="279.60" y="304.00" font-size="9.9" text-anchor="start"  textLength="45.5" lengthAdjust="spacingAndGlyphs">slope -0.5</text>
<text x="63.00" y="457.00" font-size="12.7" text-anchor="start" class="pl" textLength="15.1" lengthAdjust="spacingAndGlyphs">(c)</text>
<text x="168.20" y="497.00" font-size="9.9" text-anchor="start"  textLength="52.8" lengthAdjust="spacingAndGlyphs">Duration [d]</text>
<text transform="translate(10.0,410.75) rotate(-90)" font-size="10.2" textLength="77.3" lengthAdjust="spacingAndGlyphs">Flux [mg*m<tspan font-size="5.5" dy="-5">-2</tspan><tspan dy="5">*d</tspan><tspan font-size="5.5" dy="-5.5">-1</tspan><tspan dy="5.5">]</tspan></text>
<line x1="401.29" y1="469.75" x2="401.29" y2="471.85" stroke="#000" stroke-width="0.95" />
<line x1="409.03" y1="469.75" x2="409.03" y2="471.85" stroke="#000" stroke-width="0.95" />
<line x1="415.57" y1="469.75" x2="415.57" y2="471.85" stroke="#000" stroke-width="0.95" />
<line x1="421.23" y1="469.75" x2="421.23" y2="471.85" stroke="#000" stroke-width="0.95" />
<line x1="426.23" y1="469.75" x2="426.23" y2="471.85" stroke="#000" stroke-width="0.95" />
<line x1="430.70" y1="469.75" x2="430.70" y2="465.35" stroke="#000" stroke-width="1.3" />
<line x1="460.11" y1="469.75" x2="460.11" y2="471.85" stroke="#000" stroke-width="0.95" />
<line x1="477.31" y1="469.75" x2="477.31" y2="471.85" stroke="#000" stroke-width="0.95" />
<line x1="489.52" y1="469.75" x2="489.52" y2="471.85" stroke="#000" stroke-width="0.95" />
<line x1="498.99" y1="469.75" x2="498.99" y2="471.85" stroke="#000" stroke-width="0.95" />
<line x1="506.73" y1="469.75" x2="506.73" y2="471.85" stroke="#000" stroke-width="0.95" />
<line x1="513.27" y1="469.75" x2="513.27" y2="471.85" stroke="#000" stroke-width="0.95" />
<line x1="518.93" y1="469.75" x2="518.93" y2="471.85" stroke="#000" stroke-width="0.95" />
<line x1="523.93" y1="469.75" x2="523.93" y2="471.85" stroke="#000" stroke-width="0.95" />
<line x1="528.40" y1="469.75" x2="528.40" y2="465.35" stroke="#000" stroke-width="1.3" />
<line x1="557.81" y1="469.75" x2="557.81" y2="471.85" stroke="#000" stroke-width="0.95" />
<line x1="575.01" y1="469.75" x2="575.01" y2="471.85" stroke="#000" stroke-width="0.95" />
<line x1="587.22" y1="469.75" x2="587.22" y2="471.85" stroke="#000" stroke-width="0.95" />
<line x1="596.69" y1="469.75" x2="596.69" y2="471.85" stroke="#000" stroke-width="0.95" />
<line x1="604.43" y1="469.75" x2="604.43" y2="471.85" stroke="#000" stroke-width="0.95" />
<line x1="610.97" y1="469.75" x2="610.97" y2="471.85" stroke="#000" stroke-width="0.95" />
<line x1="616.63" y1="469.75" x2="616.63" y2="471.85" stroke="#000" stroke-width="0.95" />
<line x1="621.63" y1="469.75" x2="621.63" y2="471.85" stroke="#000" stroke-width="0.95" />
<line x1="626.10" y1="469.75" x2="626.10" y2="465.35" stroke="#000" stroke-width="1.3" />
<line x1="655.51" y1="469.75" x2="655.51" y2="471.85" stroke="#000" stroke-width="0.95" />
<line x1="672.71" y1="469.75" x2="672.71" y2="471.85" stroke="#000" stroke-width="0.95" />
<text x="425.40" y="481.00" font-size="8.0" text-anchor="start" class="tk" textLength="10.6" lengthAdjust="spacingAndGlyphs">0,1</text>
<text x="526.35" y="481.00" font-size="8.0" text-anchor="start" class="tk" textLength="4.1" lengthAdjust="spacingAndGlyphs">1</text>
<text x="621.30" y="481.00" font-size="8.0" text-anchor="start" class="tk" textLength="9.6" lengthAdjust="spacingAndGlyphs">10</text>
<line x1="401.15" y1="449.25" x2="403.25" y2="449.25" stroke="#000" stroke-width="1.0" />
<line x1="401.15" y1="437.35" x2="403.25" y2="437.35" stroke="#000" stroke-width="1.0" />
<line x1="401.15" y1="428.90" x2="403.25" y2="428.90" stroke="#000" stroke-width="1.0" />
<line x1="401.15" y1="422.35" x2="403.25" y2="422.35" stroke="#000" stroke-width="1.0" />
<line x1="401.15" y1="417.00" x2="403.25" y2="417.00" stroke="#000" stroke-width="1.0" />
<line x1="401.15" y1="412.47" x2="403.25" y2="412.47" stroke="#000" stroke-width="1.0" />
<line x1="401.15" y1="408.55" x2="403.25" y2="408.55" stroke="#000" stroke-width="1.0" />
<line x1="401.15" y1="405.09" x2="403.25" y2="405.09" stroke="#000" stroke-width="1.0" />
<line x1="401.15" y1="402.00" x2="405.35" y2="402.00" stroke="#000" stroke-width="1.3" />
<line x1="401.15" y1="381.65" x2="403.25" y2="381.65" stroke="#000" stroke-width="1.0" />
<line x1="401.15" y1="369.75" x2="403.25" y2="369.75" stroke="#000" stroke-width="1.0" />
<line x1="401.15" y1="361.30" x2="403.25" y2="361.30" stroke="#000" stroke-width="1.0" />
<line x1="401.15" y1="354.75" x2="403.25" y2="354.75" stroke="#000" stroke-width="1.0" />
<line x1="401.15" y1="349.40" x2="403.25" y2="349.40" stroke="#000" stroke-width="1.0" />
<line x1="401.15" y1="344.87" x2="403.25" y2="344.87" stroke="#000" stroke-width="1.0" />
<line x1="401.15" y1="340.95" x2="403.25" y2="340.95" stroke="#000" stroke-width="1.0" />
<line x1="401.15" y1="337.49" x2="403.25" y2="337.49" stroke="#000" stroke-width="1.0" />
<line x1="401.15" y1="334.40" x2="405.35" y2="334.40" stroke="#000" stroke-width="1.3" />
<line x1="401.15" y1="314.05" x2="403.25" y2="314.05" stroke="#000" stroke-width="1.0" />
<line x1="401.15" y1="302.15" x2="403.25" y2="302.15" stroke="#000" stroke-width="1.0" />
<line x1="401.15" y1="293.70" x2="403.25" y2="293.70" stroke="#000" stroke-width="1.0" />
<line x1="401.15" y1="287.15" x2="403.25" y2="287.15" stroke="#000" stroke-width="1.0" />
<line x1="401.15" y1="281.80" x2="403.25" y2="281.80" stroke="#000" stroke-width="1.0" />
<line x1="401.15" y1="277.27" x2="403.25" y2="277.27" stroke="#000" stroke-width="1.0" />
<line x1="401.15" y1="273.35" x2="403.25" y2="273.35" stroke="#000" stroke-width="1.0" />
<line x1="401.15" y1="269.89" x2="403.25" y2="269.89" stroke="#000" stroke-width="1.0" />
<line x1="401.15" y1="266.80" x2="405.35" y2="266.80" stroke="#000" stroke-width="1.3" />
<text x="373.65" y="269.00" font-size="8.0" text-anchor="start" class="tk" textLength="22.5" lengthAdjust="spacingAndGlyphs">10000</text>
<text x="378.15" y="337.00" font-size="8.0" text-anchor="start" class="tk" textLength="18.0" lengthAdjust="spacingAndGlyphs">1000</text>
<text x="382.65" y="404.00" font-size="8.0" text-anchor="start" class="tk" textLength="13.5" lengthAdjust="spacingAndGlyphs">100</text>
<line x1="421.10" y1="297.40" x2="679.80" y2="386.80" stroke="#828282" stroke-width="1.6" />
<line x1="421.10" y1="268.30" x2="421.10" y2="284.40" stroke="#3a3a3a" stroke-width="0.6" />
<line x1="418.90" y1="268.30" x2="423.30" y2="268.30" stroke="#3a3a3a" stroke-width="0.6" />
<line x1="418.90" y1="284.40" x2="423.30" y2="284.40" stroke="#3a3a3a" stroke-width="0.6" />
<line x1="527.60" y1="336.10" x2="527.60" y2="337.70" stroke="#3a3a3a" stroke-width="0.6" />
<line x1="525.40" y1="336.10" x2="529.80" y2="336.10" stroke="#3a3a3a" stroke-width="0.6" />
<line x1="525.40" y1="337.70" x2="529.80" y2="337.70" stroke="#3a3a3a" stroke-width="0.6" />
<line x1="562.30" y1="352.00" x2="562.30" y2="360.20" stroke="#3a3a3a" stroke-width="0.6" />
<line x1="560.10" y1="352.00" x2="564.50" y2="352.00" stroke="#3a3a3a" stroke-width="0.6" />
<line x1="560.10" y1="360.20" x2="564.50" y2="360.20" stroke="#3a3a3a" stroke-width="0.6" />
<line x1="616.20" y1="367.10" x2="616.20" y2="369.10" stroke="#3a3a3a" stroke-width="0.6" />
<line x1="614.00" y1="367.10" x2="618.40" y2="367.10" stroke="#3a3a3a" stroke-width="0.6" />
<line x1="614.00" y1="369.10" x2="618.40" y2="369.10" stroke="#3a3a3a" stroke-width="0.6" />
<line x1="639.90" y1="378.50" x2="639.90" y2="380.50" stroke="#3a3a3a" stroke-width="0.6" />
<line x1="637.70" y1="378.50" x2="642.10" y2="378.50" stroke="#3a3a3a" stroke-width="0.6" />
<line x1="637.70" y1="380.50" x2="642.10" y2="380.50" stroke="#3a3a3a" stroke-width="0.6" />
<line x1="643.10" y1="385.80" x2="643.10" y2="392.30" stroke="#3a3a3a" stroke-width="0.6" />
<line x1="640.90" y1="385.80" x2="645.30" y2="385.80" stroke="#3a3a3a" stroke-width="0.6" />
<line x1="640.90" y1="392.30" x2="645.30" y2="392.30" stroke="#3a3a3a" stroke-width="0.6" />
<line x1="669.20" y1="397.10" x2="669.20" y2="398.70" stroke="#3a3a3a" stroke-width="0.6" />
<line x1="667.00" y1="397.10" x2="671.40" y2="397.10" stroke="#3a3a3a" stroke-width="0.6" />
<line x1="667.00" y1="398.70" x2="671.40" y2="398.70" stroke="#3a3a3a" stroke-width="0.6" />
<line x1="679.90" y1="413.50" x2="679.90" y2="416.50" stroke="#3a3a3a" stroke-width="0.6" />
<line x1="677.70" y1="413.50" x2="682.10" y2="413.50" stroke="#3a3a3a" stroke-width="0.6" />
<line x1="677.70" y1="416.50" x2="682.10" y2="416.50" stroke="#3a3a3a" stroke-width="0.6" />
<line x1="527.60" y1="335.90" x2="527.60" y2="337.90" stroke="#3a3a3a" stroke-width="0.6" />
<line x1="525.40" y1="335.90" x2="529.80" y2="335.90" stroke="#3a3a3a" stroke-width="0.6" />
<line x1="525.40" y1="337.90" x2="529.80" y2="337.90" stroke="#3a3a3a" stroke-width="0.6" />
<line x1="557.10" y1="348.50" x2="557.10" y2="350.50" stroke="#3a3a3a" stroke-width="0.6" />
<line x1="554.90" y1="348.50" x2="559.30" y2="348.50" stroke="#3a3a3a" stroke-width="0.6" />
<line x1="554.90" y1="350.50" x2="559.30" y2="350.50" stroke="#3a3a3a" stroke-width="0.6" />
<line x1="586.30" y1="364.80" x2="586.30" y2="366.80" stroke="#3a3a3a" stroke-width="0.6" />
<line x1="584.10" y1="364.80" x2="588.50" y2="364.80" stroke="#3a3a3a" stroke-width="0.6" />
<line x1="584.10" y1="366.80" x2="588.50" y2="366.80" stroke="#3a3a3a" stroke-width="0.6" />
<line x1="615.90" y1="381.40" x2="615.90" y2="392.30" stroke="#3a3a3a" stroke-width="0.6" />
<line x1="613.70" y1="381.40" x2="618.10" y2="381.40" stroke="#3a3a3a" stroke-width="0.6" />
<line x1="613.70" y1="392.30" x2="618.10" y2="392.30" stroke="#3a3a3a" stroke-width="0.6" />
<line x1="642.60" y1="404.90" x2="642.60" y2="406.50" stroke="#3a3a3a" stroke-width="0.6" />
<line x1="640.40" y1="404.90" x2="644.80" y2="404.90" stroke="#3a3a3a" stroke-width="0.6" />
<line x1="640.40" y1="406.50" x2="644.80" y2="406.50" stroke="#3a3a3a" stroke-width="0.6" />
<line x1="658.70" y1="419.90" x2="658.70" y2="421.50" stroke="#3a3a3a" stroke-width="0.6" />
<line x1="656.50" y1="419.90" x2="660.90" y2="419.90" stroke="#3a3a3a" stroke-width="0.6" />
<line x1="656.50" y1="421.50" x2="660.90" y2="421.50" stroke="#3a3a3a" stroke-width="0.6" />
<line x1="670.50" y1="430.30" x2="670.50" y2="432.30" stroke="#3a3a3a" stroke-width="0.6" />
<line x1="668.30" y1="430.30" x2="672.70" y2="430.30" stroke="#3a3a3a" stroke-width="0.6" />
<line x1="668.30" y1="432.30" x2="672.70" y2="432.30" stroke="#3a3a3a" stroke-width="0.6" />
<polyline points="469.4,311.0 527.6,336.9 557.1,349.5 586.3,365.8 615.9,386.3 642.6,405.7 658.7,420.7 670.5,431.3" fill="none" stroke="#000" stroke-width="1.5" stroke-linejoin="round"/>
<polyline points="421.1,275.4 527.6,336.9 562.3,355.1 616.2,368.1 639.9,379.5 643.1,388.3 669.2,397.9 679.9,415.0" fill="none" stroke="#000" stroke-width="1.5" stroke-linejoin="round"/>
<polygon points="469.4,308.1 466.7,313.1 472.1,313.1" fill="#000"/>
<polygon points="527.6,334.0 524.9,339.0 530.3,339.0" fill="#000"/>
<polygon points="557.1,346.6 554.4,351.6 559.8,351.6" fill="#000"/>
<polygon points="586.3,362.9 583.6,367.9 589.0,367.9" fill="#000"/>
<polygon points="615.9,383.4 613.2,388.4 618.6,388.4" fill="#000"/>
<polygon points="642.6,402.8 639.9,407.8 645.3,407.8" fill="#000"/>
<polygon points="658.7,417.8 656.0,422.8 661.4,422.8" fill="#000"/>
<polygon points="670.5,428.4 667.8,433.4 673.2,433.4" fill="#000"/>
<rect x="418.9" y="273.2" width="4.4" height="4.4" fill="#000"/>
<rect x="525.4" y="334.7" width="4.4" height="4.4" fill="#000"/>
<rect x="560.1" y="352.9" width="4.4" height="4.4" fill="#000"/>
<rect x="614.0" y="365.9" width="4.4" height="4.4" fill="#000"/>
<rect x="637.7" y="377.3" width="4.4" height="4.4" fill="#000"/>
<rect x="640.9" y="386.1" width="4.4" height="4.4" fill="#000"/>
<rect x="667.0" y="395.7" width="4.4" height="4.4" fill="#000"/>
<rect x="677.7" y="412.8" width="4.4" height="4.4" fill="#000"/>
<rect x="401.15" y="261.8" width="283.15" height="207.95" fill="none" stroke="#000" stroke-width="1.3"/>
<line x1="593.40" y1="277.40" x2="616.60" y2="277.40" stroke="#000" stroke-width="1.5" />
<polygon points="605.0,274.5 602.3,279.5 607.7,279.5" fill="#000"/>
<line x1="595.40" y1="294.20" x2="618.60" y2="294.20" stroke="#000" stroke-width="1.5" />
<rect x="604.2" y="292.0" width="4.4" height="4.4" fill="#000"/>
<line x1="595.60" y1="307.00" x2="618.60" y2="307.00" stroke="#808080" stroke-width="1.2" />
<text x="619.40" y="281.00" font-size="9.9" text-anchor="start"  textLength="48.9" lengthAdjust="spacingAndGlyphs">OECD 313</text>
<text x="621.30" y="297.00" font-size="9.9" text-anchor="start"  textLength="22.5" lengthAdjust="spacingAndGlyphs">TS-2</text>
<text x="621.50" y="310.00" font-size="9.9" text-anchor="start"  textLength="45.1" lengthAdjust="spacingAndGlyphs">slope -0.5</text>
<text x="421.20" y="458.00" font-size="12.7" text-anchor="start" class="pl" textLength="15.8" lengthAdjust="spacingAndGlyphs">(d)</text>
<text x="515.80" y="497.00" font-size="9.9" text-anchor="start"  textLength="52.8" lengthAdjust="spacingAndGlyphs">Duration [d]</text>
<text transform="translate(365.2,411.25) rotate(-90)" font-size="10.2" textLength="77.3" lengthAdjust="spacingAndGlyphs">Flux [mg*m<tspan font-size="5.8" dy="-5">-2</tspan><tspan dy="5">*d</tspan><tspan font-size="5.8" dy="-5.5">-1</tspan><tspan dy="5.5">]</tspan></text>
</svg></body></html>
